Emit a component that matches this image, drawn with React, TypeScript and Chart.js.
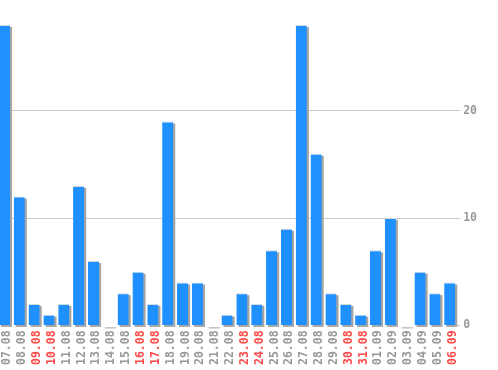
import React, { useEffect, useRef } from "react";
import { Chart, registerables } from "chart.js";

Chart.register(...registerables);

const categories = [
  "07.08", "08.08", "09.08", "10.08", "11.08", "12.08", "13.08", "14.08",
  "15.08", "16.08", "17.08", "18.08", "19.08", "20.08", "21.08", "22.08",
  "23.08", "24.08", "25.08", "26.08", "27.08", "28.08", "29.08", "30.08",
  "31.08", "01.09", "02.09", "03.09", "04.09", "05.09", "06.09",
];
const values = [
  28, 12, 2, 1, 2, 13, 6, 0,
  3, 5, 2, 19, 4, 4, 0, 1,
  3, 2, 7, 9, 28, 16, 3, 2,
  1, 7, 10, 0, 5, 3, 4,
];
const redLabels = ["09.08", "10.08", "16.08", "17.08", "23.08", "24.08", "30.08", "31.08", "06.09"];
const yTicks = [0, 10, 20];

const FONT = { family: "'DejaVu Sans Mono', monospace", size: 11.5, weight: "bold" as const };

const shadowPlugin = {
  id: "barShadow",
  beforeDatasetsDraw(chart: any) {
    const ctx = chart.ctx;
    const meta = chart.getDatasetMeta(0);
    ctx.save();
    ctx.fillStyle = "#a4a4a4";
    meta.data.forEach((el: any) => {
      const p = el.getProps(["x", "y", "base", "width"], true);
      const top = Math.min(p.y, p.base);
      const h = Math.max(Math.abs(p.base - p.y), 1);
      ctx.fillRect(p.x - p.width / 2 + 2, top + 2, p.width, h);
    });
    ctx.restore();
  },
};

export default function App() {
  const ref = useRef<HTMLCanvasElement>(null);
  useEffect(() => {
    const chart = new Chart(ref.current!, {
      type: "bar",
      data: {
        labels: categories,
        datasets: [
          {
            data: values,
            backgroundColor: "#1e90ff",
            borderColor: "#d8d8d8",
            borderWidth: { top: 1, left: 0, right: 0, bottom: 0 },
            borderSkipped: "bottom",
            barPercentage: 0.75,
            categoryPercentage: 1,
          },
        ],
      },
      options: {
        responsive: false,
        animation: false,
        layout: { padding: { top: 0, right: 18, bottom: 0, left: 0 } },
        plugins: { legend: { display: false }, tooltip: { enabled: false } },
        scales: {
          x: {
            grid: { display: false, drawTicks: false },
            border: { display: false },
            ticks: {
              autoSkip: false,
              maxRotation: 90,
              minRotation: 90,
              padding: 5,
              labelOffset: 3,
              font: FONT,
              color: (c: any) =>
                redLabels.includes(categories[c.index]) ? "#ff4a4a" : "#999999",
            },
          },
          y: {
            position: "right",
            min: 0,
            max: 29.4,
            border: { display: false },
            grid: {
              color: (c: any) => (c.tick && c.tick.value === 0 ? "rgba(0,0,0,0)" : "#c8c8c8"),
              tickColor: "#c8c8c8",
              tickLength: 3,
            },
            afterBuildTicks: (axis: any) => {
              axis.ticks = yTicks.map((v) => ({ value: v }));
            },
            ticks: {
              padding: 3,
              font: FONT,
              color: "#999999",
            },
          },
        },
      },
      plugins: [shadowPlugin],
    });
    return () => chart.destroy();
  }, []);
  return (
    <div style={{ position: "absolute", left: -3, top: 0, width: 501, height: 370 }}>
      <canvas ref={ref} width={501} height={370} />
    </div>
  );
}
